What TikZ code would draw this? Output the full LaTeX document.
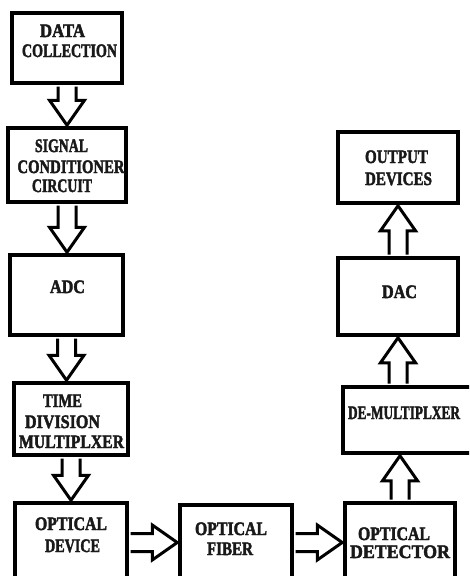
\documentclass[tikz,border=0pt]{standalone}
\usepackage{fontspec}
\setmainfont{Liberation Serif}[BoldFeatures={FakeBold=2.5}]
\usetikzlibrary{calc}
\newcommand\fitw[2]{\resizebox{#1pt}{\height}{#2}}
\tikzset{
  blk/.style={draw=black, line width=3.5pt, rectangle, inner sep=0pt},
  lbl/.style={anchor=base, inner sep=0pt, font=\bfseries\fontsize{19}{21}\selectfont, text=black!90},
  barrow/.style={draw=black, line width=3pt, fill=white, line join=miter,
    to path={let \p1=(\tikztostart), \p2=(\tikztotarget),
      \n1={atan2(\y2-\y1,\x2-\x1)}, \n2={veclen(\x2-\x1,\y2-\y1)} in
      [shift={(\p1)}, rotate=\n1]
      (1.75pt,9pt) -- ({\n2*1pt-26pt},9pt) -- ({\n2*1pt-26pt},17.5pt) -- ({\n2*1pt-1pt},0pt)
      -- ({\n2*1pt-26pt},-17.5pt) -- ({\n2*1pt-26pt},-9pt) -- (1.75pt,-9pt)}}
}
\begin{document}
\begin{tikzpicture}[x=1pt,y=-1pt]
\clip (0,0) rectangle (469,576);

\node[blk, minimum width=110pt, minimum height=70pt] (dcol) at (67,48) {};
\node[blk, minimum width=118pt, minimum height=74pt] (sigc) at (67,165) {};
\node[blk, minimum width=113pt, minimum height=80pt] (adc) at (66.5,295) {};
\node[blk, minimum width=114pt, minimum height=72pt] (tdm) at (71,419) {};
\node[blk, minimum width=112pt, minimum height=79pt] (odev) at (71,542.5) {};
\node[blk, minimum width=112pt, minimum height=75pt] (ofib) at (236,542.5) {};
\node[blk, minimum width=110pt, minimum height=79pt] (odet) at (400,542.5) {};
\node[blk, minimum width=137pt, minimum height=66pt] (dmux) at (411.5,420) {};
\node[blk, minimum width=120pt, minimum height=77pt] (dac) at (398,296.5) {};
\node[blk, minimum width=120pt, minimum height=71pt] (outd) at (398,167.5) {};

\node[lbl] (dcol-1) at (62.5,37) {\fitw{45}{DATA}};
\node[lbl] (dcol-2) at (69.5,57) {\fitw{95}{COLLECTION}};
\node[lbl] (sigc-1) at (61.5,152) {\fitw{53}{SIGNAL}};
\node[lbl] (sigc-2) at (71,173) {\fitw{107}{CONDITIONER}};
\node[lbl] (sigc-3) at (62,192) {\fitw{60}{CIRCUIT}};
\node[lbl] (adc-1) at (67.5,293) {\fitw{35}{ADC}};
\node[lbl] (tdm-1) at (62.5,407) {\fitw{39}{TIME}};
\node[lbl] (tdm-2) at (62.5,428) {\fitw{75}{DIVISION}};
\node[lbl] (tdm-3) at (71.5,448) {\fitw{105}{MULTIPLXER}};
\node[lbl] (odev-1) at (71,530) {\fitw{72}{OPTICAL}};
\node[lbl] (odev-2) at (72.5,552) {\fitw{55}{DEVICE}};
\node[lbl] (ofib-1) at (231,535) {\fitw{72}{OPTICAL}};
\node[lbl] (ofib-2) at (230,555) {\fitw{46}{FIBER}};
\node[lbl] (odet-1) at (394,540) {\fitw{72}{OPTICAL}};
\node[lbl] (odet-2) at (400,558) {\fitw{100}{DETECTOR}};
\node[lbl] (dmux-1) at (404,419) {\fitw{112}{DE-MULTIPLXER}};
\node[lbl] (dac-1) at (399.5,298) {\fitw{35}{DAC}};
\node[lbl] (outd-1) at (396.5,163) {\fitw{63}{OUTPUT}};
\node[lbl] (outd-2) at (398.5,185) {\fitw{67}{DEVICES}};

\draw[barrow] (dcol.south) to (dcol.south |- sigc.north);
\draw[barrow] (sigc.south) to (sigc.south |- adc.north);
\draw[barrow] (adc.south) to (adc.south |- tdm.north);
\draw[barrow] (tdm.south) to (tdm.south |- odev.north);
\draw[barrow] (odev.east) to (ofib.west);
\draw[barrow] (ofib.east) to (odet.west);
\draw[barrow] (odet.north) to (odet.north |- dmux.south);
\draw[barrow] (dac.south |- dmux.north) to (dac.south);
\draw[barrow] (dac.north) to (outd.south);
\end{tikzpicture}
\end{document}
